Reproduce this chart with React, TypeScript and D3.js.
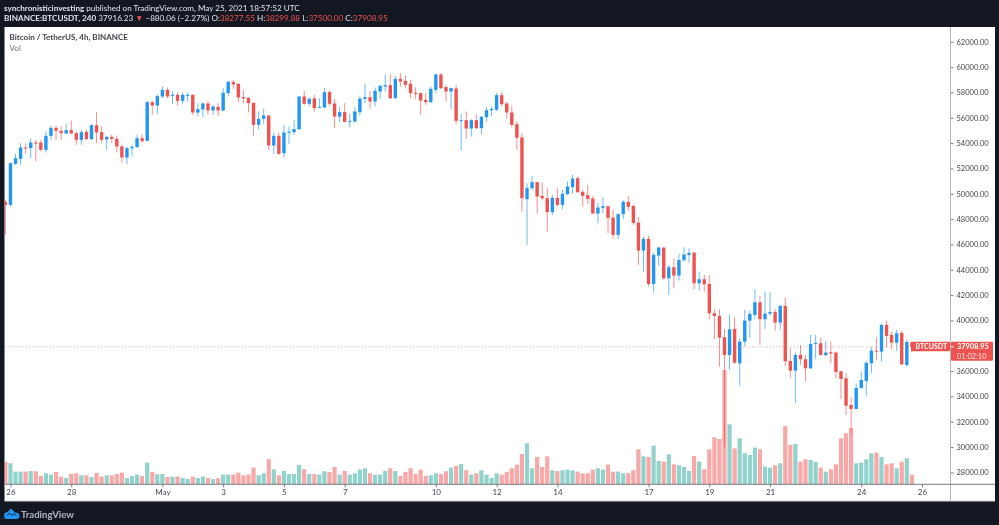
import React, { ReactElement, useRef, useEffect } from 'react';
import * as d3 from 'd3';

const open = [
  49360, 49123, 52364, 52759, 53654, 53601, 54049, 54049, 53469, 54575,
  55207, 54970, 54760, 55023, 54786, 54259, 54891, 54312, 55418, 54865,
  54286, 54496, 54338, 53733, 52864, 53601, 53680, 54391, 54180, 57235,
  56971, 57682, 58209, 57735, 57814, 57340, 57762, 57814, 56418, 56656,
  57129, 56577, 56866, 56577, 57946, 58815, 58683, 57630, 57577, 57182,
  55444, 55918, 56181, 53812, 54575, 53206, 54812, 54865, 55102, 57682,
  57103, 57524, 56813, 56813, 58025, 57129, 56102, 56444, 55707, 55707,
  56444, 57497, 57629, 57287, 58077, 58472, 58577, 57550, 59077, 58919,
  58682, 57971, 57945, 57418, 57234, 58208, 59420, 58419, 58077, 58314,
  55733, 55812, 55154, 55812, 55180, 56049, 56602, 56628, 57787, 57129,
  56418, 55496, 54443, 49572, 50441, 50915, 49835, 49651, 48545, 49677,
  49125, 49967, 50520, 51230, 50151, 49888, 49625, 48440, 48888, 49019,
  48124, 46755, 48387, 49361, 49045, 47729, 45516, 46437, 42882, 45121,
  45753, 43330, 44199, 43541, 44752, 45173, 45358, 42935, 43251, 42882,
  40565, 40355, 38670, 37274, 39328, 36616, 38327, 39986, 40434, 41434,
  40092, 40539, 40671, 39828, 41145, 36800, 36037, 37274, 36932, 36221,
  38143, 38196, 37274, 37485, 37459, 35983, 35431, 33325, 33009, 34667,
  35220, 36616, 37616, 37537, 39644, 38854, 38248, 39012, 36484, 38277.55,
];

const high = [
  49518, 52469, 53153, 53996, 53996, 54391, 54259, 54259, 54918, 55365,
  55365, 55313, 55523, 55787, 54918, 55049, 55049, 55470, 56445, 55313,
  54575, 54681, 54601, 53865, 53733, 53865, 54654, 54707, 57340, 57340,
  57867, 58472, 58393, 58077, 57998, 57998, 57998, 57867, 57156, 57208,
  57340, 57024, 57156, 58341, 58920, 59000, 58700, 58209, 57630, 57200,
  56497, 56708, 56234, 54839, 54839, 55444, 55313, 55839, 57700, 58156,
  57630, 57814, 57551, 58341, 58156, 57471, 56839, 57155, 56313, 56839,
  57682, 58682, 58129, 58393, 58603, 59420, 59472, 59314, 59525, 59340,
  58998, 58419, 57998, 57945, 58472, 59472, 59525, 58603, 58393, 58603,
  56313, 56497, 55891, 56234, 56155, 56839, 56892, 57945, 58024, 57234,
  56945, 55707, 54785, 50836, 51415, 50968, 50915, 50441, 49914, 50441,
  50309, 50968, 51494, 51362, 50309, 50704, 49835, 49309, 49730, 49045,
  48782, 48466, 49519, 49835, 49098, 48150, 46621, 46674, 45358, 45832,
  45779, 44383, 44910, 45252, 45779, 45700, 45400, 43857, 43593, 43593,
  40881, 40881, 39302, 40434, 40250, 38600, 40829, 40776, 42461, 41935,
  42277, 42224, 40881, 41224, 41829, 37801, 37459, 38064, 37274, 38854,
  38854, 38643, 38380, 38327, 37537, 36037, 35826, 33930, 35036, 35958,
  36827, 37933, 38670, 39723, 39986, 39117, 39249, 39196, 38512, 38299.88,
];

const low = [
  46753, 48965, 52285, 52285, 53153, 52811, 52548, 53338, 53259, 54259,
  54259, 54259, 54733, 54733, 53865, 53865, 54259, 54259, 53996, 53996,
  53469, 53996, 53259, 52469, 52337, 53022, 53654, 54049, 54130, 56234,
  56313, 57551, 57551, 57103, 56945, 57103, 57287, 56234, 56103, 56050,
  56234, 56234, 56155, 56497, 57682, 58288, 57208, 57156, 56418, 54575,
  55102, 55523, 53469, 53153, 53074, 52864, 53917, 54654, 54997, 57024,
  56892, 56497, 56761, 56761, 56945, 55180, 55654, 55628, 55233, 55575,
  56181, 57155, 56707, 56892, 57471, 58077, 57471, 57500, 58472, 58340,
  57550, 57471, 56234, 57023, 57155, 57945, 58261, 57287, 56681, 55523,
  53416, 54338, 54522, 55101, 54733, 55707, 56155, 56550, 56892, 55918,
  55233, 53469, 48598, 45965, 50309, 48414, 49467, 47018, 48335, 48993,
  48782, 49914, 50046, 50046, 48993, 49203, 48387, 47676, 48466, 46886,
  46491, 46439, 47992, 48677, 47545, 44383, 43857, 42672, 42198, 44304,
  43199, 42014, 42540, 43146, 44647, 44568, 42461, 42356, 42277, 40092,
  38512, 36353, 30000, 36089, 36563, 34852, 37933, 38643, 40092, 38064,
  39328, 40355, 39196, 39249, 36405, 35484, 33456, 36484, 35168, 36168,
  36958, 37195, 37143, 36616, 35431, 33799, 32535, 31111, 32982, 34588,
  33983, 35826, 36879, 36747, 37880, 37748, 37590, 36484, 36353, 37500,
];

const close = [
  49123, 52416, 52811, 53654, 53601, 54049, 53996, 53469, 54575, 55207,
  54970, 54786, 55023, 54760, 54259, 54865, 54312, 55418, 54839, 54259,
  54496, 54338, 53733, 52864, 53601, 53706, 54391, 54154, 57235, 56971,
  57709, 58209, 57682, 57814, 57340, 57814, 57814, 56418, 56682, 57129,
  56577, 56892, 56577, 57972, 58841, 58630, 57603, 57524, 57156, 55444,
  55918, 56181, 53812, 54575, 53153, 54839, 54891, 55102, 57682, 57103,
  57498, 56761, 56866, 58025, 57103, 56102, 56444, 55681, 55760, 56497,
  57524, 57629, 57287, 58129, 58524, 58577, 57550, 59077, 58867, 58603,
  57945, 57892, 57366, 57234, 58287, 59420, 58340, 58077, 58340, 55760,
  55812, 55154, 55812, 55180, 56076, 56602, 56707, 57787, 57076, 56418,
  55444, 54417, 49651, 50441, 50915, 49783, 49651, 48545, 49677, 49125,
  49993, 50573, 51204, 50125, 49835, 49598, 48440, 48914, 49019, 48098,
  46755, 48387, 49361, 48966, 47703, 45516, 46437, 42882, 45173, 45753,
  43330, 44199, 43541, 44778, 45200, 45331, 42935, 43251, 42856, 40565,
  40355, 38643, 37274, 39302, 36669, 38327, 39986, 40513, 41434, 40092,
  40539, 40671, 39828, 41145, 36774, 36037, 37274, 36932, 36221, 38143,
  38222, 37274, 37459, 37380, 35931, 35378, 33272, 33009, 34667, 35300,
  36642, 37616, 37537, 39644, 38775, 38248, 38986, 36537, 38301, 37908.95,
];

const volume = [
  2230, 2100, 1270, 1270, 1270, 1330, 1300, 830, 1100, 970,
  1230, 770, 630, 1030, 1100, 900, 900, 730, 1130, 770,
  900, 900, 1030, 1170, 630, 830, 970, 830, 2170, 1230,
  1000, 1030, 730, 770, 770, 630, 530, 770, 630, 770,
  630, 530, 600, 970, 970, 970, 1170, 900, 970, 1670,
  900, 1100, 2500, 1500, 900, 1330, 1030, 1030, 1930, 1500,
  1030, 1030, 970, 1300, 1230, 1730, 970, 1330, 970, 1100,
  1470, 1600, 1100, 970, 970, 1330, 1600, 1330, 830, 1230,
  1600, 1030, 1470, 830, 900, 1100, 1030, 1300, 1670, 1830,
  2030, 1400, 970, 1100, 1400, 970, 630, 1100, 970, 1230,
  1600, 1970, 3030, 4100, 1600, 2730, 1730, 2800, 1400, 1330,
  1400, 1470, 1400, 1270, 1100, 1100, 1470, 1600, 1470, 1970,
  1270, 1270, 1100, 1100, 1400, 3500, 2800, 2730, 3870, 2330,
  2270, 3000, 2000, 1900, 1730, 1330, 2830, 2270, 1500, 3500,
  4700, 4530, 11430, 6000, 3600, 4600, 3100, 2930, 3670, 3500,
  1770, 1670, 1900, 2100, 5830, 3930, 4030, 2270, 2500, 2430,
  2230, 1670, 1270, 1500, 2000, 4600, 5100, 5630, 2100, 2170,
  2500, 3100, 3170, 2730, 2000, 2100, 1600, 2270, 2600, 970,
];

const priceTicks = [
  28000, 30000, 32000, 34000, 36000, 38000, 40000, 42000, 44000,
  46000, 48000, 50000, 52000, 54000, 56000, 58000, 60000, 62000,
];

const timeTicks = [
  '2021-04-26', '2021-04-28', '2021-05-01', '2021-05-03', '2021-05-05', '2021-05-07', '2021-05-10',
  '2021-05-12', '2021-05-14', '2021-05-17', '2021-05-19', '2021-05-21', '2021-05-24', '2021-05-26',
];
const timeLabels = ['26', '28', 'May', '3', '5', '7', '10', '12', '14', '17', '19', '21', '24', '26'];

const lastPrice = 37908.95;
const firstBar = new Date('2021-04-25T20:00:00Z');
const domainEnd = new Date('2021-05-26T00:00:00Z');

const BLUE = '#2196f3';
const RED = '#ef5350';
const FONT = 'Lato, "Open Sans", sans-serif';
const width = 999;
const height = 525;

const App = (): ReactElement => {
  const container = useRef<SVGSVGElement | null>(null);

  useEffect(() => {
    const svg = d3.select(container.current);
    svg.selectAll('*').remove();

    const x = d3.scaleUtc().domain([firstBar, domainEnd]).range([5.4, 922]);
    const y = d3.scaleLinear().domain([28000, 62000]).range([472.4, 41.8]);
    const yVol = d3.scaleLinear().domain([0, 11430]).range([484.3, 370]);
    const barTime = (i: number) => d3.utcHour.offset(firstBar, i * 4);

    // page and pane
    svg.append('rect').attr('width', width).attr('height', height).attr('fill', '#131722');
    svg.append('rect').attr('x', 4.5).attr('y', 27).attr('width', 990.5).attr('height', 474).attr('fill', '#fff');

    svg.append('defs').append('clipPath').attr('id', 'pane')
      .append('rect').attr('x', 4.5).attr('y', 27).attr('width', 946).attr('height', 457.3);

    const pane = svg.append('g').attr('clip-path', 'url(#pane)');
    const bars = d3.range(open.length);

    pane.append('g').attr('opacity', 0.5)
      .selectAll('rect').data(bars).enter().append('rect')
      .attr('x', i => x(barTime(i)) - 2.1)
      .attr('width', 4.2)
      .attr('y', i => yVol(volume[i]))
      .attr('height', i => yVol(0) - yVol(volume[i]))
      .attr('fill', i => (close[i] >= open[i] ? '#26a69a' : RED));

    pane.append('g').attr('opacity', 0.65).selectAll('rect').data(bars).enter().append('rect')
      .attr('x', i => x(barTime(i)) - 0.5)
      .attr('width', 1)
      .attr('y', i => y(high[i]))
      .attr('height', i => y(low[i]) - y(high[i]))
      .attr('fill', i => (close[i] >= open[i] ? BLUE : RED));

    pane.append('g').selectAll('rect').data(bars).enter().append('rect')
      .attr('x', i => x(barTime(i)) - 1.7)
      .attr('width', 3.4)
      .attr('y', i => y(Math.max(open[i], close[i])))
      .attr('height', i => Math.max(1, Math.abs(y(open[i]) - y(close[i]))))
      .attr('fill', i => (close[i] >= open[i] ? BLUE : RED));

    // last price line
    svg.append('line')
      .attr('x1', 5).attr('x2', 950)
      .attr('y1', y(lastPrice)).attr('y2', y(lastPrice))
      .attr('stroke', RED).attr('stroke-opacity', 0.5)
      .attr('stroke-dasharray', '1 2');

    // axes
    const yAxis = d3.axisRight(y).tickValues(priceTicks).tickSize(3).tickPadding(3)
      .tickFormat(d => d3.format('.2f')(d as number));
    const yG = svg.append('g').attr('transform', 'translate(950.5,0)').call(yAxis);
    yG.select('.domain').remove();
    yG.selectAll('line').attr('stroke', '#787b86');
    yG.selectAll('text').attr('fill', '#434651').attr('font-family', FONT).attr('font-size', 7.5);

    const tickDates = timeTicks.map(d => new Date(d + 'T00:00:00Z'));
    const xAxis = d3.axisBottom(x).tickValues(tickDates).tickSize(3).tickPadding(2.5)
      .tickFormat((_, i) => timeLabels[i]);
    const xG = svg.append('g').attr('transform', 'translate(0,484.3)').call(xAxis);
    xG.select('.domain').remove();
    xG.selectAll('line').attr('stroke', '#787b86');
    xG.selectAll('text').attr('fill', '#434651').attr('font-family', FONT).attr('font-size', 8);

    svg.append('line').attr('x1', 950.5).attr('x2', 950.5).attr('y1', 27).attr('y2', 501).attr('stroke', '#b2b5be');
    svg.append('line').attr('x1', 4.5).attr('x2', 995).attr('y1', 484.3).attr('y2', 484.3).attr('stroke', '#787b86');
    svg.append('line').attr('x1', 4.5).attr('x2', 995).attr('y1', 501).attr('y2', 501).attr('stroke', '#d1d4dc');

    // price labels
    svg.append('rect').attr('x', 911).attr('y', 341.7).attr('width', 39).attr('height', 9.6).attr('rx', 1).attr('fill', RED);
    svg.append('rect').attr('x', 951).attr('y', 341.7).attr('width', 42).attr('height', 19).attr('rx', 1).attr('fill', RED);
    svg.append('line').attr('x1', 951).attr('x2', 954).attr('y1', y(lastPrice)).attr('y2', y(lastPrice)).attr('stroke', '#fff');

    const label = (tx: number, ty: number, s: string, size: number, fill: string, weight = 400) =>
      svg.append('text').attr('x', tx).attr('y', ty).attr('font-family', FONT)
        .attr('font-size', size).attr('font-weight', weight).attr('fill', fill).text(s);

    label(915.5, 349.3, 'BTCUSDT', 7, '#fff', 700);
    label(957, 349.3, '37908.95', 7.4, '#fff', 700);
    label(957, 358.5, '01:02:10', 7.4, '#fde3e2');

    label(9.5, 40.3, 'Bitcoin / TetherUS, 4h, BINANCE', 8.05, '#434651', 700);
    label(9.5, 51, 'Vol', 8.05, '#6a6d78');

    // header
    const head1 = label(4, 10.7, '', 8.1, '#e0e3eb');
    head1.append('tspan').attr('font-weight', 700).text('synchronisticinvesting');
    head1.append('tspan').text(' published on TradingView.com, May 25, 2021 18:57:52 UTC');

    const head2 = label(4, 21, '', 8.15, '#e0e3eb');
    head2.append('tspan').attr('font-weight', 700).text('BINANCE:BTCUSDT, 240');
    head2.append('tspan').text(' 37916.23 ');
    head2.append('tspan').attr('fill', RED).text('▼');
    head2.append('tspan').text(' −880.06 (−2.27%) O:');
    head2.append('tspan').attr('fill', RED).text('38277.55');
    head2.append('tspan').text(' H:');
    head2.append('tspan').attr('fill', RED).text('38299.88');
    head2.append('tspan').text(' L:');
    head2.append('tspan').attr('fill', RED).text('37500.00');
    head2.append('tspan').text(' C:');
    head2.append('tspan').attr('fill', RED).text('37908.95');

    // TradingView mark
    svg.append('path')
      .attr('d', 'M4 516 C4 513 6 512 7.5 512 L11 508.5 L15 512.5 C18 512.5 19.5 514 19.5 516 C19.5 518 18 519 16.5 519 L7 519 C5 519 4 518 4 516 Z')
      .attr('fill', BLUE);
    svg.append('path')
      .attr('d', 'M7 515.5 L9.5 513 L12 515.5 L14 513.5 L16.5 516')
      .attr('fill', 'none').attr('stroke', '#131722').attr('stroke-width', 0.9);
    label(21, 517.5, 'TradingView', 9.6, '#b2b5be', 700);
  }, []);

  return (
    <svg
      ref={container}
      width={width}
      height={height}
      style={{ position: 'absolute', left: 0, top: 0, display: 'block', filter: 'blur(0.3px)' }}
    />
  );
};

export default App;
